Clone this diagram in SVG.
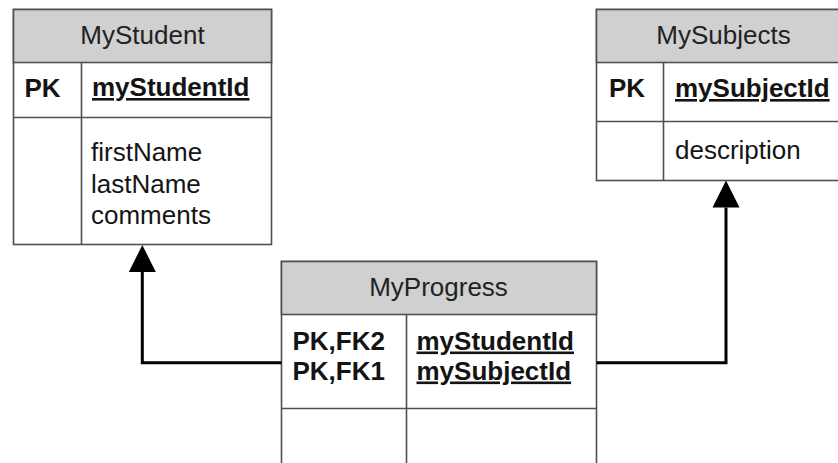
<svg xmlns="http://www.w3.org/2000/svg" width="838" height="463" viewBox="0 0 838 463">
  <style>
    .box { fill: #ffffff; stroke: #505050; stroke-width: 1.6; }
    .hdr { fill: #d0d0d0; stroke: #505050; stroke-width: 1.6; }
    .ln { stroke: #505050; stroke-width: 1.6; fill: none; }
    .t { font-family: "Liberation Sans", Arial, sans-serif; font-size: 26px; fill: #141414; }
    .title { text-anchor: middle; fill: #222222; }
    .b { font-weight: bold; }
    .u { text-decoration: underline; }
    .conn { stroke: #000000; stroke-width: 3; fill: none; }
  </style>
  <defs>
    <marker id="arrow" markerUnits="userSpaceOnUse" markerWidth="28" markerHeight="28" refX="0" refY="13.5" orient="auto" viewBox="0 0 28 27">
      <path d="M0,0 L27,13.5 L0,27 Z" fill="#000000"/>
    </marker>
  </defs>
  <rect width="838" height="463" fill="#ffffff"/>

  <g id="MyStudent">
    <rect class="box" x="13.5" y="9.5" width="258" height="235"/>
    <rect class="hdr" x="13.5" y="9.5" width="258" height="53"/>
    <line class="ln" x1="13.5" y1="117.5" x2="271.5" y2="117.5"/>
    <line class="ln" x1="81.5" y1="62.5" x2="81.5" y2="244.5"/>
    <text class="t title" x="142.5" y="43.5">MyStudent</text>
    <text class="t b" x="24.5" y="97">PK</text>
    <text class="t b u" x="92" y="96">myStudentId</text>
    <text class="t" x="91" y="161">firstName</text>
    <text class="t" x="91" y="192.5">lastName</text>
    <text class="t" x="91" y="224">comments</text>
  </g>

  <g id="MySubjects">
    <rect class="box" x="596.5" y="9.5" width="260" height="171"/>
    <rect class="hdr" x="596.5" y="9.5" width="260" height="53"/>
    <line class="ln" x1="596.5" y1="121.5" x2="856.5" y2="121.5"/>
    <line class="ln" x1="663.5" y1="62.5" x2="663.5" y2="180.5"/>
    <text class="t title" x="723.5" y="43.5">MySubjects</text>
    <text class="t b" x="609" y="97">PK</text>
    <text class="t b u" x="675" y="97">mySubjectId</text>
    <text class="t" x="675" y="158.5">description</text>
  </g>

  <g id="MyProgress">
    <rect class="box" x="281.5" y="261.5" width="315" height="215"/>
    <rect class="hdr" x="281.5" y="261.5" width="315" height="53"/>
    <line class="ln" x1="281.5" y1="408.5" x2="596.5" y2="408.5"/>
    <line class="ln" x1="406.5" y1="314.5" x2="406.5" y2="476.5"/>
    <text class="t title" x="438.5" y="295.5">MyProgress</text>
    <text class="t b" x="292.5" y="349.5">PK,FK2</text>
    <text class="t b" x="292.5" y="379.5">PK,FK1</text>
    <text class="t b u" x="416.5" y="349.5">myStudentId</text>
    <text class="t b u" x="416.5" y="379.5">mySubjectId</text>
  </g>

  <g id="connectors">
    <path class="conn" d="M281.5,362.7 H142.3 V272" marker-end="url(#arrow)"/>
    <path class="conn" d="M596.5,362.7 H726 V207.5" marker-end="url(#arrow)"/>
  </g>
</svg>
